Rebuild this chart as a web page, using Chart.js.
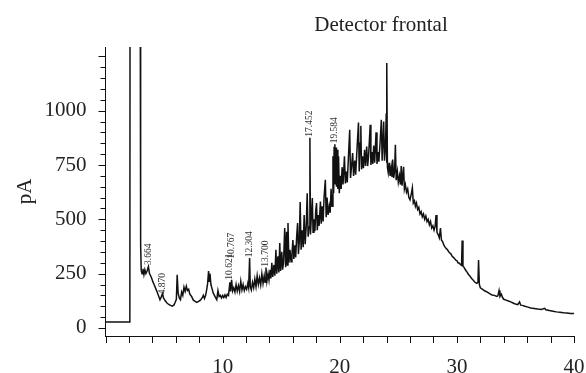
<!DOCTYPE html>
<html>
<head>
<meta charset="utf-8">
<script src="https://cdn.jsdelivr.net/npm/chart.js@4.4.0/dist/chart.umd.min.js"></script>
<style>
  html, body { margin: 0; padding: 0; background: #fff; }
  #wrap { width: 586px; height: 373px; }
</style>
</head>
<body>
<div id="wrap"><canvas id="chart"></canvas></div>
<script>
// retention time (min)
const times = [
  0, 2.08, 2.1, 2.95, 3.0, 3.05,
  3.12, 3.2, 3.28, 3.36, 3.45, 3.55, 3.664, 3.75, 3.85, 3.95, 4.05, 4.15, 4.3, 4.45, 4.55, 4.65, 4.75, 4.87, 4.95,
  5.1, 5.25, 5.4, 5.55, 5.7, 5.85, 5.95, 6.05, 6.12, 6.2, 6.3, 6.4, 6.5, 6.6, 6.7, 6.8, 6.9, 7.0, 7.1, 7.2, 7.35,
  7.5, 7.65, 7.8, 7.95, 8.1, 8.25, 8.35, 8.45, 8.55, 8.65, 8.72, 8.8, 8.86, 8.92, 9.0, 9.1, 9.2, 9.3, 9.4, 9.5,
  9.6, 9.7, 9.8, 9.9, 10.0, 10.1, 10.2, 10.3, 10.4, 10.5, 10.621, 10.68, 10.767, 10.85, 10.95, 11.05, 11.15,
  11.25, 11.35, 11.45, 11.55, 11.65, 11.75, 11.85, 11.95, 12.05, 12.15, 12.22, 12.304, 12.36, 12.45, 12.55,
  12.65, 12.75, 12.85, 12.95, 13.05, 13.15, 13.25, 13.35, 13.45, 13.55, 13.62, 13.7, 13.78, 13.88, 13.96,
  14.05, 14.12, 14.2, 14.28, 14.38, 14.46, 14.55, 14.62, 14.72, 14.8, 14.88, 14.95, 15.05, 15.12, 15.2, 15.3,
  15.38, 15.46, 15.52, 15.58, 15.66, 15.75, 15.84, 15.92, 16.0, 16.08, 16.16, 16.24, 16.32, 16.4, 16.47,
  16.55, 16.62, 16.7, 16.8, 16.88, 16.96, 17.05, 17.14, 17.22, 17.3, 17.38, 17.452, 17.5, 17.58, 17.66,
  17.72, 17.8, 17.88, 17.95, 18.02, 18.08, 18.16, 18.24, 18.35, 18.42, 18.5, 18.58, 18.66, 18.77, 18.84,
  18.92, 19.0, 19.1, 19.18, 19.26, 19.34, 19.42, 19.48, 19.52, 19.584, 19.62, 19.68, 19.72, 19.78, 19.84,
  19.9, 19.96, 20.04, 20.12, 20.2, 20.28, 20.4, 20.48, 20.56, 20.64, 20.72, 20.85, 20.92, 21.0, 21.1, 21.18,
  21.28, 21.36, 21.45, 21.6, 21.66, 21.74, 21.8, 21.86, 21.94, 22.02, 22.12, 22.2, 22.3, 22.38, 22.46, 22.6,
  22.66, 22.74, 22.82, 22.9, 22.98, 23.1, 23.18, 23.26, 23.34, 23.44, 23.55, 23.62, 23.75, 23.82, 23.9,
  23.97, 24.0, 24.03, 24.07, 24.14, 24.22, 24.3, 24.38, 24.46, 24.52, 24.6, 24.68, 24.75, 24.82, 24.92,
  25.0, 25.1, 25.18, 25.25, 25.32, 25.45, 25.52, 25.6, 25.7, 25.8, 25.9, 26.0, 26.1, 26.2, 26.28, 26.38,
  26.46, 26.55, 26.65, 26.75, 26.85, 26.95, 27.05, 27.15, 27.25, 27.35, 27.45, 27.55, 27.65, 27.75, 27.85,
  27.95, 28.05, 28.15, 28.22, 28.3, 28.4, 28.5, 28.6, 28.68, 28.8, 28.9, 29.0, 29.1, 29.2, 29.3, 29.4, 29.5,
  29.6, 29.7, 29.8, 29.9, 30.0, 30.1, 30.2, 30.3, 30.4, 30.45, 30.52, 30.6, 30.7, 30.8, 30.9, 31.0, 31.1,
  31.2, 31.3, 31.4, 31.5, 31.6, 31.7, 31.8, 31.85, 31.92, 32.0, 32.2, 32.4, 32.6, 32.8, 33.0, 33.2, 33.4,
  33.5, 33.6, 33.68, 33.8, 33.9, 34.0, 34.2, 34.4, 34.6, 34.8, 35.0, 35.2, 35.35, 35.45, 35.6, 35.8, 36.0,
  36.3, 36.6, 36.9, 37.2, 37.5, 37.6, 37.9, 38.2, 38.5, 38.8, 39.1, 39.4, 39.7, 40.0
];
// detector signal (pA)
const signal = [
  28, 28, 2000, 2000, 380, 265,
  250, 272, 245, 268, 250, 262, 282, 252, 240, 228, 212, 200, 180, 160, 145, 130, 142, 158, 138,
  125, 115, 108, 104, 100, 106, 118, 132, 245, 160, 138, 130, 165, 150, 188, 168, 192, 172, 178, 155, 145,
  128, 122, 118, 122, 128, 138, 150, 135, 150, 180, 205, 262, 215, 250, 200, 180, 160, 150, 140, 130,
  172, 145, 150, 138, 150, 140, 152, 140, 155, 150, 210, 168, 222, 170, 185, 165, 200,
  170, 195, 168, 215, 175, 200, 172, 190, 178, 205, 185, 322, 190, 175, 210,
  185, 225, 190, 240, 200, 230, 198, 250, 205, 240, 210, 278, 215, 250, 220,
  268, 228, 300, 235, 290, 240, 360, 250, 330, 255, 391, 262, 350, 268, 300, 460,
  280, 443, 290, 483, 300, 360, 305, 340, 405, 318, 380, 325, 420, 483, 340,
  400, 580, 360, 450, 372, 520, 385, 470, 620, 420, 465, 875, 430, 520, 598,
  440, 500, 445, 540, 575, 450, 520, 470, 582, 480, 560, 490, 600, 682, 510,
  600, 520, 560, 530, 640, 560, 790, 620, 830, 845, 660, 830, 650, 820, 640,
  790, 620, 700, 640, 740, 660, 790, 665, 720, 670, 760, 912, 690, 740, 805, 700,
  770, 705, 800, 945, 720, 850, 930, 730, 790, 735, 820, 745, 835, 745, 790, 935,
  750, 810, 755, 840, 760, 900, 755, 810, 765, 850, 958, 770, 950, 770, 830,
  988, 760, 1219, 740, 715, 760, 700, 740, 695, 775, 690, 720, 843, 680, 720,
  670, 700, 660, 745, 655, 742, 640, 660, 625, 640, 600, 590, 615, 645, 575, 585,
  560, 575, 545, 555, 525, 535, 512, 525, 500, 515, 490, 500, 475, 490, 460,
  470, 450, 470, 520, 440, 430, 415, 460, 405, 395, 380, 372, 365, 360, 350, 345, 340,
  330, 325, 320, 312, 310, 300, 298, 292, 288, 402, 285, 280, 270, 262, 255, 245, 240,
  232, 225, 220, 213, 208, 205, 210, 313, 200, 185, 178, 170, 165, 158, 152, 150, 145,
  148, 172, 145, 155, 140, 132, 128, 124, 120, 115, 110, 107, 120, 105, 104, 100, 97,
  92, 90, 87, 85, 90, 84, 80, 77, 74, 72, 70, 69, 67, 66
];

// annotated peaks
const peakTimes = [3.664, 4.870, 10.621, 10.767, 12.304, 13.700, 17.452, 19.584];
const peakLabels = ['3.664', '4.870', '10.621', '10.767', '12.304', '13.700', '17.452', '19.584'];
const peakLabelBase = [290, 155, 222, 318, 325, 282, 880, 850];

const yLabelValues = [0, 250, 500, 750, 1000];
const xLabelValues = [10, 20, 30, 40];

const serif = '"Liberation Serif", "DejaVu Serif", serif';

const extras = {
  id: 'extras',
  afterDraw(chart) {
    const ctx = chart.ctx;
    const xs = chart.scales.x, ys = chart.scales.y;
    const area = chart.chartArea;
    ctx.save();
    ctx.strokeStyle = '#111';
    ctx.lineWidth = 1;
    // tick marks
    ys.ticks.forEach(t => {
      if (t.value < 0 || t.value > 1250 || t.value % 50 !== 0) return;
      const py = Math.round(ys.getPixelForValue(t.value)) + 0.5;
      const len = t.value % 250 === 0 ? 7 : 5;
      ctx.beginPath();
      ctx.moveTo(area.left - len, py);
      ctx.lineTo(area.left, py);
      ctx.stroke();
    });
    xs.ticks.forEach(t => {
      if (t.value % 2 !== 0) return;
      const px = Math.round(xs.getPixelForValue(t.value)) + 0.5;
      ctx.beginPath();
      ctx.moveTo(px, area.bottom);
      ctx.lineTo(px, area.bottom + 7);
      ctx.stroke();
    });
    // peak labels
    ctx.fillStyle = '#333';
    ctx.font = '9.5px ' + serif;
    ctx.textAlign = 'left';
    ctx.textBaseline = 'middle';
    peakTimes.forEach((t, i) => {
      ctx.save();
      ctx.translate(xs.getPixelForValue(t), ys.getPixelForValue(peakLabelBase[i]));
      ctx.rotate(-Math.PI / 2);
      ctx.fillText(peakLabels[i], 0, 0);
      ctx.restore();
    });
    // title
    ctx.fillStyle = '#222';
    ctx.font = '21px ' + serif;
    ctx.textAlign = 'center';
    ctx.textBaseline = 'alphabetic';
    ctx.fillText('Detector frontal', 381, 31);
    // y axis title
    ctx.save();
    ctx.translate(31, (area.top + area.bottom) / 2);
    ctx.rotate(-Math.PI / 2);
    ctx.fillText('pA', 0, 0);
    ctx.restore();
    ctx.restore();
  }
};

new Chart(document.getElementById('chart'), {
  type: 'line',
  data: {
    datasets: [{
      data: times.map((t, i) => ({ x: t, y: signal[i] })),
      borderColor: '#111',
      borderWidth: 1.5,
      pointRadius: 0,
      tension: 0,
      fill: false
    }]
  },
  options: {
    responsive: true,
    maintainAspectRatio: false,
    devicePixelRatio: 1,
    animation: false,
    layout: { padding: { top: 47, right: 12, left: 0, bottom: 0 } },
    plugins: { legend: { display: false }, tooltip: { enabled: false }, title: { display: false } },
    scales: {
      x: {
        type: 'linear',
        min: 0,
        max: 40,
        afterFit: s => { s.height = 37; s.paddingLeft = 0; s.paddingRight = 0; },
        grid: { display: false, drawTicks: false },
        border: { display: true, color: '#111', width: 1 },
        ticks: {
          stepSize: 2,
          autoSkip: false,
          includeBounds: false,
          maxRotation: 0,
          padding: 19,
          color: '#222',
          font: { family: serif, size: 21 },
          callback: v => xLabelValues.includes(v) ? String(v) : ''
        }
      },
      y: {
        min: -37,
        max: 1293,
        afterFit: s => { s.width = 105.5; s.paddingTop = 0; s.paddingBottom = 0; },
        grid: { display: false, drawTicks: false },
        border: { display: true, color: '#111', width: 1 },
        ticks: {
          stepSize: 50,
          autoSkip: false,
          includeBounds: false,
          padding: 19,
          color: '#222',
          font: { family: serif, size: 21 },
          callback: v => yLabelValues.includes(v) ? String(v) : ''
        }
      }
    }
  },
  plugins: [extras]
});
</script>
</body>
</html>
